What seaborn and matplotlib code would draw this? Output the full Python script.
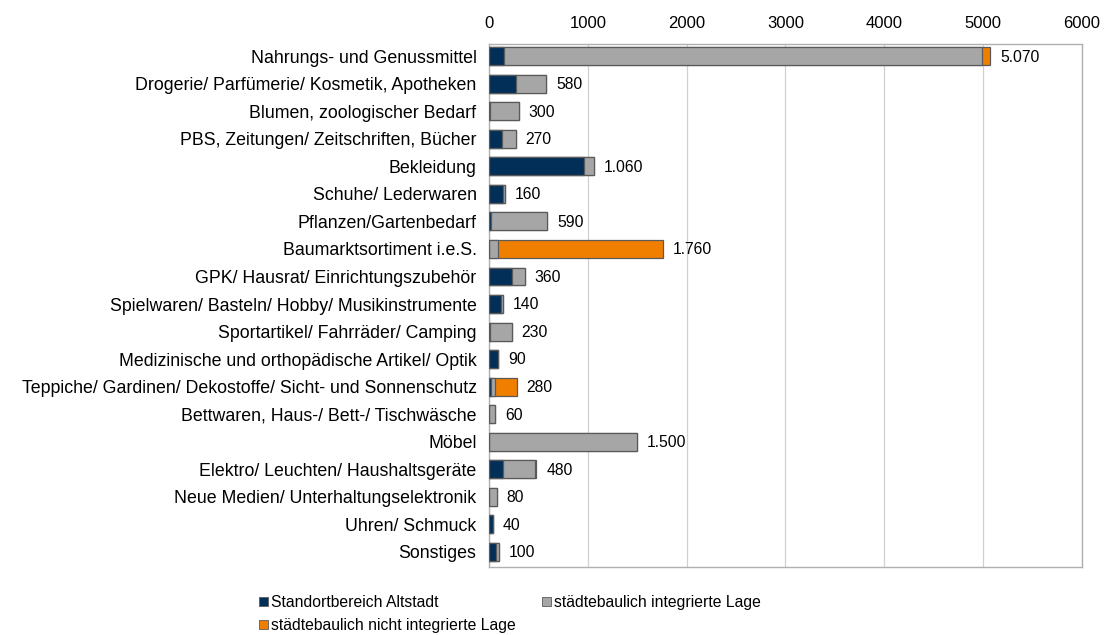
import pandas as pd
import matplotlib
matplotlib.use("Agg")
import matplotlib.pyplot as plt
from matplotlib.patches import Patch
import seaborn as sns

# ==========================================================
# DATOS (Verkaufsfläche nach Lage)
# ==========================================================
categorias = [
    "Nahrungs- und Genussmittel",
    "Drogerie/ Parfümerie/ Kosmetik, Apotheken",
    "Blumen, zoologischer Bedarf",
    "PBS, Zeitungen/ Zeitschriften, Bücher",
    "Bekleidung",
    "Schuhe/ Lederwaren",
    "Pflanzen/Gartenbedarf",
    "Baumarktsortiment i.e.S.",
    "GPK/ Hausrat/ Einrichtungszubehör",
    "Spielwaren/ Basteln/ Hobby/ Musikinstrumente",
    "Sportartikel/ Fahrräder/ Camping",
    "Medizinische und orthopädische Artikel/ Optik",
    "Teppiche/ Gardinen/ Dekostoffe/ Sicht- und Sonnenschutz",
    "Bettwaren, Haus-/ Bett-/ Tischwäsche",
    "Möbel",
    "Elektro/ Leuchten/ Haushaltsgeräte",
    "Neue Medien/ Unterhaltungselektronik",
    "Uhren/ Schmuck",
    "Sonstiges",
]
altstadt = [150, 270, 10, 130, 960, 140, 20, 0, 230, 120, 10, 90, 20, 0, 0, 140, 0, 40, 70]
integriert = [4840, 310, 290, 140, 100, 20, 570, 90, 130, 20, 220, 0, 40, 60, 1500, 320, 80, 0, 30]
nicht_integriert = [80, 0, 0, 0, 0, 0, 0, 1670, 0, 0, 0, 0, 220, 0, 0, 20, 0, 0, 0]
totales = [5070, 580, 300, 270, 1060, 160, 590, 1760, 360, 140, 230, 90, 280, 60, 1500, 480, 80, 40, 100]

nombres = ["Standortbereich Altstadt", "städtebaulich integrierte Lage",
           "städtebaulich nicht integrierte Lage"]
colores = ["#022f57", "#a6a6a6", "#f07f00"]

df = pd.DataFrame({
    "cat": categorias,
    "a": altstadt,
    "b": integriert,
    "c": nicht_integriert,
})
df["ab"] = df["a"] + df["b"]
df["abc"] = df["ab"] + df["c"]

# ==========================================================
# GRAFICA
# ==========================================================
sns.set_style("white")
plt.rcParams["font.family"] = ["Liberation Sans", "DejaVu Sans"]
plt.rcParams["text.color"] = "black"
plt.rcParams["xtick.color"] = "black"
plt.rcParams["ytick.color"] = "black"

fig = plt.figure(figsize=(11.04, 6.35), dpi=100)
ax = fig.add_axes([0.443, 0.107, 0.537, 0.824])

# barras apiladas: acumulados dibujados de mayor a menor
for col, color in zip(["abc", "ab", "a"], colores[::-1]):
    sns.barplot(data=df, x=col, y="cat", orient="h", color=color,
                edgecolor="#5a5a5a", linewidth=0.9, width=0.65,
                saturation=1, ax=ax, zorder=3)

for i, t in enumerate(totales):
    etiqueta = f"{t:,}".replace(",", ".")
    ax.text(t + 100, i + 0.03, etiqueta, va="center", ha="left", fontsize=11.3, zorder=4)

ax.set_xlim(0, 6000)
ax.set_ylim(18.55, -0.45)
ax.set_xticks(range(0, 6001, 1000))
ax.xaxis.tick_top()
ax.tick_params(axis="x", length=0, labelsize=12, pad=9)
ax.tick_params(axis="y", length=0, labelsize=12.8, pad=9)
ax.set_xlabel("")
ax.set_ylabel("")
ax.grid(axis="x", color="#d0d0d0", linewidth=0.9, zorder=0)
for s in ax.spines.values():
    s.set_color("#b0b0b0")
    s.set_linewidth(1.0)

# leyenda: orden por filas como en el original
handles = [Patch(facecolor=colores[0], edgecolor="#5a5a5a", linewidth=0.6),
           Patch(facecolor=colores[2], edgecolor="#5a5a5a", linewidth=0.6),
           Patch(facecolor=colores[1], edgecolor="#5a5a5a", linewidth=0.6)]
labels = [nombres[0], nombres[2], nombres[1]]
fig.legend(handles, labels, loc="upper left", bbox_to_anchor=(0.2345, 0.063),
           ncol=2, frameon=False, fontsize=11.3,
           handlelength=0.55, handleheight=0.55,
           handletextpad=0.2, columnspacing=1.7, labelspacing=0.5,
           borderaxespad=0, borderpad=0)

fig.savefig("out.png", dpi=100)
